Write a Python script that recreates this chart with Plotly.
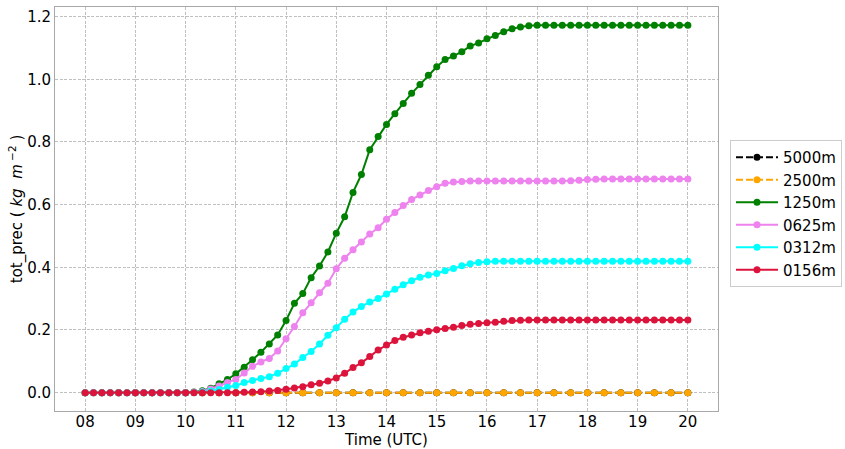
import plotly.graph_objects as go

# time axis (hours UTC)
times_10min = [8 + i / 6 for i in range(73)]
times_20min = [8 + i / 3 for i in range(37)]
tick_vals = list(range(8, 21))
tick_text = ["08", "09", "10", "11", "12", "13", "14", "15", "16", "17", "18", "19", "20"]

labels = ["5000m", "2500m", "1250m", "0625m", "0312m", "0156m"]

prec_5000m = [0.0] * 37
prec_2500m = [0.0] * 37

prec_1250m = [0.0] * 13 + [
    0.002, 0.006, 0.014, 0.028, 0.042, 0.060, 0.081, 0.105, 0.129, 0.155, 0.184,
    0.230, 0.285, 0.316, 0.367, 0.404, 0.449, 0.509, 0.561, 0.639, 0.696, 0.775,
    0.817, 0.856, 0.890, 0.923, 0.955, 0.983, 1.013, 1.040, 1.063, 1.074, 1.088,
    1.106, 1.116, 1.129, 1.140, 1.152, 1.161, 1.167, 1.171,
] + [1.172] * 19

prec_0625m = [0.0] * 13 + [
    0.001, 0.004, 0.012, 0.021, 0.032, 0.042, 0.063, 0.084, 0.098, 0.109, 0.133,
    0.172, 0.211, 0.255, 0.287, 0.319, 0.349, 0.395, 0.429, 0.456, 0.481, 0.506,
    0.526, 0.553, 0.575, 0.597, 0.616, 0.631, 0.645, 0.657, 0.668, 0.672, 0.674,
] + [0.675] * 12 + [0.676, 0.678, 0.680, 0.681] + [0.682] * 11

prec_0312m = [0.0] * 14 + [
    0.002, 0.005, 0.010, 0.017, 0.023, 0.032, 0.039, 0.045, 0.051, 0.062, 0.077,
    0.091, 0.112, 0.131, 0.155, 0.183, 0.207, 0.234, 0.257, 0.275, 0.289, 0.300,
    0.315, 0.330, 0.344, 0.357, 0.368, 0.375, 0.380, 0.389, 0.396, 0.405, 0.411,
    0.415, 0.418,
] + [0.419] * 24

prec_0156m = [0.0] * 19 + [
    0.001, 0.002, 0.003, 0.005, 0.007, 0.011, 0.015, 0.019, 0.025, 0.030, 0.037,
    0.047, 0.062, 0.080, 0.095, 0.115, 0.136, 0.152, 0.166, 0.177, 0.184, 0.191,
    0.196, 0.201, 0.205, 0.209, 0.214, 0.218, 0.221, 0.223, 0.225, 0.228, 0.230,
    0.231,
] + [0.232] * 20

series = [
    (labels[0], times_20min, prec_5000m, "black", "dash"),
    (labels[1], times_20min, prec_2500m, "orange", "dash"),
    (labels[2], times_10min, prec_1250m, "green", "solid"),
    (labels[3], times_10min, prec_0625m, "violet", "solid"),
    (labels[4], times_10min, prec_0312m, "cyan", "solid"),
    (labels[5], times_10min, prec_0156m, "crimson", "solid"),
]

fig = go.Figure()
for name, x, y, color, dash in series:
    fig.add_trace(go.Scatter(
        x=x, y=y, name=name, mode="lines+markers",
        line=dict(color=color, width=2, dash="7px,3px" if dash == "dash" else "solid"),
        marker=dict(color=color, size=7),
    ))

axis_common = dict(
    showline=True, linecolor="#a8a8a8", linewidth=1, mirror=True,
    showgrid=True, gridcolor="#c0c0c0", gridwidth=1, griddash="3px,1.5px",
    zeroline=False, ticks="", ticklen=0, automargin=False,
    tickfont=dict(size=15, color="black"),
)

NB = "\u00a0"
fig.update_layout(
    width=845, height=449,
    margin=dict(l=55, r=127, t=7, b=38, autoexpand=False),
    paper_bgcolor="white", plot_bgcolor="white",
    font=dict(family="DejaVu Sans", size=15, color="black"),
    xaxis=dict(
        range=[7.4, 20.6], tickvals=tick_vals, ticktext=tick_text,
        ticklabelstandoff=-3,
        title=dict(text="Time (UTC)", font=dict(size=15), standoff=0),
        **axis_common,
    ),
    yaxis=dict(
        range=[-0.0586, 1.2306], tickvals=[0, 0.2, 0.4, 0.6, 0.8, 1.0, 1.2],
        tickformat=".1f",
        title=dict(
            text=f"tot_prec ({NB}<i>kg{NB}{NB}m</i><sup>{NB}−2</sup>{NB})",
            font=dict(size=15), standoff=0,
        ),
        **axis_common,
    ),
    legend=dict(
        xref="container", yref="container",
        x=730 / 845, y=1 - 140 / 449, xanchor="left", yanchor="top",
        bordercolor="#cccccc", borderwidth=1, bgcolor="white",
        font=dict(size=15), itemwidth=42, tracegroupgap=0,
    ),
    showlegend=True,
)

fig.write_html(
    "out.html",
    config={"displayModeBar": False},
    post_script="document.body.style.margin='0px';",
)
